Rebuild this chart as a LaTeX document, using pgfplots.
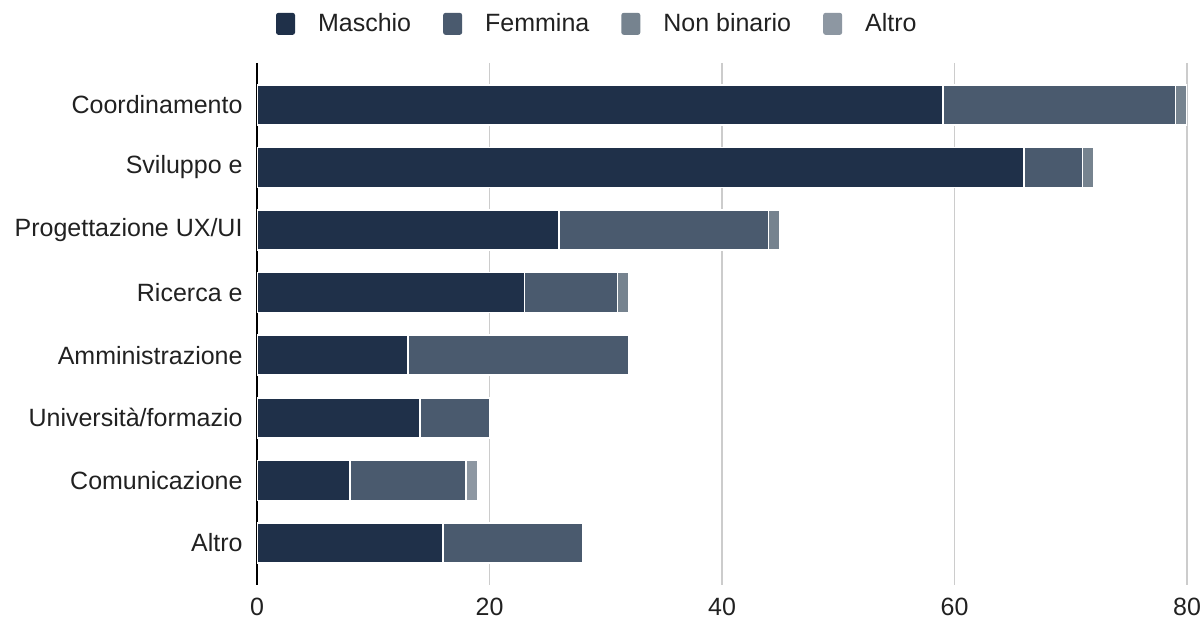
\documentclass[border=0pt]{standalone}
\usepackage{fontspec}
\setmainfont{Liberation Sans}
\usepackage{pgfplots}
\usepackage{pgfplotstable}
\pgfplotsset{compat=1.18}

\definecolor{cmas}{HTML}{1F3049}
\definecolor{cfem}{HTML}{4A5A6E}
\definecolor{cnb}{HTML}{76838F}
\definecolor{calt}{HTML}{8D97A2}
\definecolor{gridc}{HTML}{CCCCCC}
\definecolor{txt}{HTML}{212121}

% y  maschio femmina nonbinario altro
\pgfplotstableread{
y M  F  N A
0 59 20 1 0
1 66 5  1 0
2 26 18 1 0
3 23 8  1 0
4 13 19 0 0
5 14 6  0 0
6 8  10 0 1
7 16 12 0 0
}\ruoli

\begin{document}
\begin{tikzpicture}
\begin{axis}[
  name=ax,
  scale only axis, width=465pt, height=261pt,
  xbar stacked, bar width=20pt,
  xmin=0, xmax=80, ymin=-0.67, ymax=7.67, y dir=reverse,
  ytick={0,...,7},
  yticklabels={Coordinamento, Sviluppo e, Progettazione UX/UI, Ricerca e,
    Amministrazione, Università/formazio, Comunicazione, Altro},
  xtick={20,40,60,80},
  extra x ticks={0},
  extra x tick style={grid style={black, line width=0.9pt}},
  xmajorgrids, grid style={gridc, line width=0.9pt},
  axis line style={draw=none}, major tick length=0,
  /pgf/number format/assume math mode=true,
  tick label style={font=\fontsize{12.5}{15}\selectfont, text=txt},
  xticklabel style={yshift=-5.5pt, inner sep=1pt},
  yticklabel style={xshift=-3.7pt},
  legend style={at={(0.367,1.075)}, anchor=center, draw=none,
    font=\fontsize{12.5}{15}\selectfont, text=txt,
    /tikz/every odd column/.append style={column sep=9.5pt},
    /tikz/every even column/.append style={column sep=14pt}},
  legend columns=4,
  legend image code/.code={\fill[#1, draw=none, rounded corners=1.2pt] (0pt,-5.5pt) rectangle (9.5pt,5.5pt);},
  every axis plot/.append style={draw=white, line width=0.8pt},
]
\addplot[fill=cmas] table[x=M, y=y] {\ruoli};
\addplot[fill=cfem] table[x=F, y=y] {\ruoli};
\addplot[fill=cnb]  table[x=N, y=y] {\ruoli};
\addplot[fill=calt] table[x=A, y=y] {\ruoli};
\legend{Maschio, Femmina, Non binario, Altro}
\end{axis}
\pgfresetboundingbox
\path ([shift={(-128.5pt,-20.5pt)}]ax.south west) rectangle ([shift={(8pt,31.5pt)}]ax.north east);
\end{tikzpicture}
\end{document}
